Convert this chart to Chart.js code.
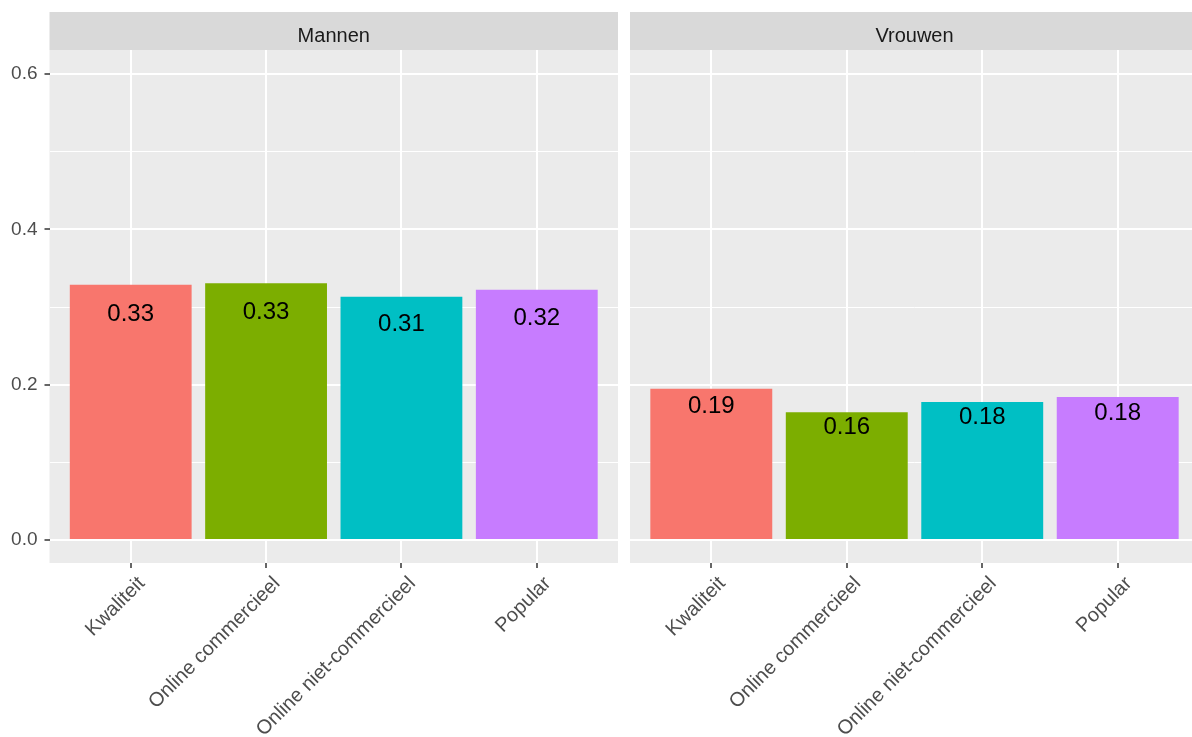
<!DOCTYPE html>
<html>
<head>
<meta charset="utf-8">
<script src="https://cdn.jsdelivr.net/npm/chart.js@4"></script>
<style>
  html, body { margin:0; padding:0; background:#ffffff; }
  #wrap { position:relative; width:1192px; height:737px; overflow:hidden; }
  #c1 { position:absolute; left:0; top:0; }
  #c2 { position:absolute; left:630px; top:0; }
</style>
</head>
<body>
<div id="wrap">
  <div id="c1" style="width:618px;height:737px"><canvas id="left"></canvas></div>
  <div id="c2" style="width:569px;height:737px"><canvas id="right"></canvas></div>
</div>
<script>
// ---- data ----
const categories = ['Kwaliteit', 'Online commercieel', 'Online niet-commercieel', 'Popular'];
const panels = ['Mannen', 'Vrouwen'];
const mannen = [0.3286, 0.3307, 0.3132, 0.3222];
const vrouwen = [0.1948, 0.1644, 0.1777, 0.1841];
const barColors = ['#F8766D', '#7CAE00', '#00BFC4', '#C77CFF'];
const yMajor = [0, 0.2, 0.4, 0.6];
const yMinor = [0.1, 0.3, 0.5];
const yTickLabels = ['0.0', '0.2', '0.4', '0.6'];

const FONT = '"Liberation Sans", Arial, sans-serif';
const isMajor = v => yMajor.some(m => Math.abs(m - v) < 1e-9);

function makeChart(canvasId, title, values, showY) {
  const bgPlugin = {
    id: 'bg' + canvasId,
    beforeDraw(chart) {
      const { ctx, chartArea: a } = chart;
      ctx.save();
      ctx.fillStyle = '#EBEBEB';
      ctx.fillRect(a.left, a.top, a.right - a.left, a.bottom - a.top);
      ctx.fillStyle = '#D9D9D9';
      ctx.fillRect(a.left, 12, a.right - a.left, a.top - 12);
      ctx.fillStyle = '#1A1A1A';
      ctx.font = '20px ' + FONT;
      ctx.textAlign = 'center';
      ctx.textBaseline = 'alphabetic';
      ctx.fillText(title, (a.left + a.right) / 2, 42);
      ctx.restore();
    }
  };
  const labelPlugin = {
    id: 'lbl' + canvasId,
    afterDatasetsDraw(chart) {
      const { ctx, scales } = chart;
      ctx.save();
      ctx.fillStyle = '#000000';
      ctx.font = '24px ' + FONT;
      ctx.textAlign = 'center';
      ctx.textBaseline = 'middle';
      values.forEach((v, i) => {
        const x = scales.x.getPixelForValue(i);
        const y = scales.y.getPixelForValue(v * 0.885);
        ctx.fillText(v.toFixed(2), x, y);
      });
      ctx.restore();
    }
  };
  return new Chart(document.getElementById(canvasId), {
    type: 'bar',
    data: {
      datasets: [{
        data: categories.map((c, i) => ({ x: i, y: values[i] })),
        backgroundColor: barColors,
        borderWidth: 0,
        barPercentage: 1.0,
        categoryPercentage: 0.9
      }]
    },
    options: {
      responsive: true,
      maintainAspectRatio: false,
      animation: false,
      devicePixelRatio: 1,
      layout: { padding: { top: 50, left: 0, right: 0, bottom: 0 } },
      plugins: { legend: { display: false }, tooltip: { enabled: false }, title: { display: false } },
      scales: {
        x: {
          type: 'linear',
          min: -0.6,
          max: 3.6,
          offset: false,
          border: { display: false },
          grid: {
            offset: false,
            color: '#FFFFFF',
            lineWidth: 2,
            drawTicks: true,
            tickLength: 5,
            tickColor: '#333333',
            tickWidth: 1.5
          },
          afterBuildTicks: s => { s.ticks = categories.map((c, i) => ({ value: i })); },
          afterFit: s => { s.height = 174; },
          ticks: {
            autoSkip: false,
            maxRotation: 45,
            minRotation: 45,
            padding: 4,
            labelOffset: 11,
            color: '#4D4D4D',
            font: { family: FONT, size: 20 },
            callback: v => categories[Math.round(v)] ?? ''
          }
        },
        y: {
          type: 'linear',
          min: -0.0296,
          max: 0.6309,
          border: { display: false },
          grid: {
            color: '#FFFFFF',
            lineWidth: c => (c.tick && isMajor(c.tick.value)) ? 2 : 1,
            drawTicks: showY,
            tickLength: 5,
            tickWidth: 1.5,
            tickColor: c => (c.tick && isMajor(c.tick.value)) ? '#333333' : 'rgba(0,0,0,0)'
          },
          afterBuildTicks: s => {
            s.ticks = yMajor.concat(yMinor).sort((a, b) => a - b).map(v => ({ value: v }));
          },
          afterFit: s => { s.width = showY ? 49.5 : 0; },
          ticks: {
            display: showY,
            padding: 7,
            color: '#4D4D4D',
            font: { family: FONT, size: 19 },
            callback: v => {
              const k = yMajor.findIndex(m => Math.abs(m - v) < 1e-9);
              return k >= 0 ? yTickLabels[k] : '';
            }
          }
        }
      }
    },
    plugins: [bgPlugin, labelPlugin]
  });
}

makeChart('left', panels[0], mannen, true);
makeChart('right', panels[1], vrouwen, false);
</script>
</body>
</html>
